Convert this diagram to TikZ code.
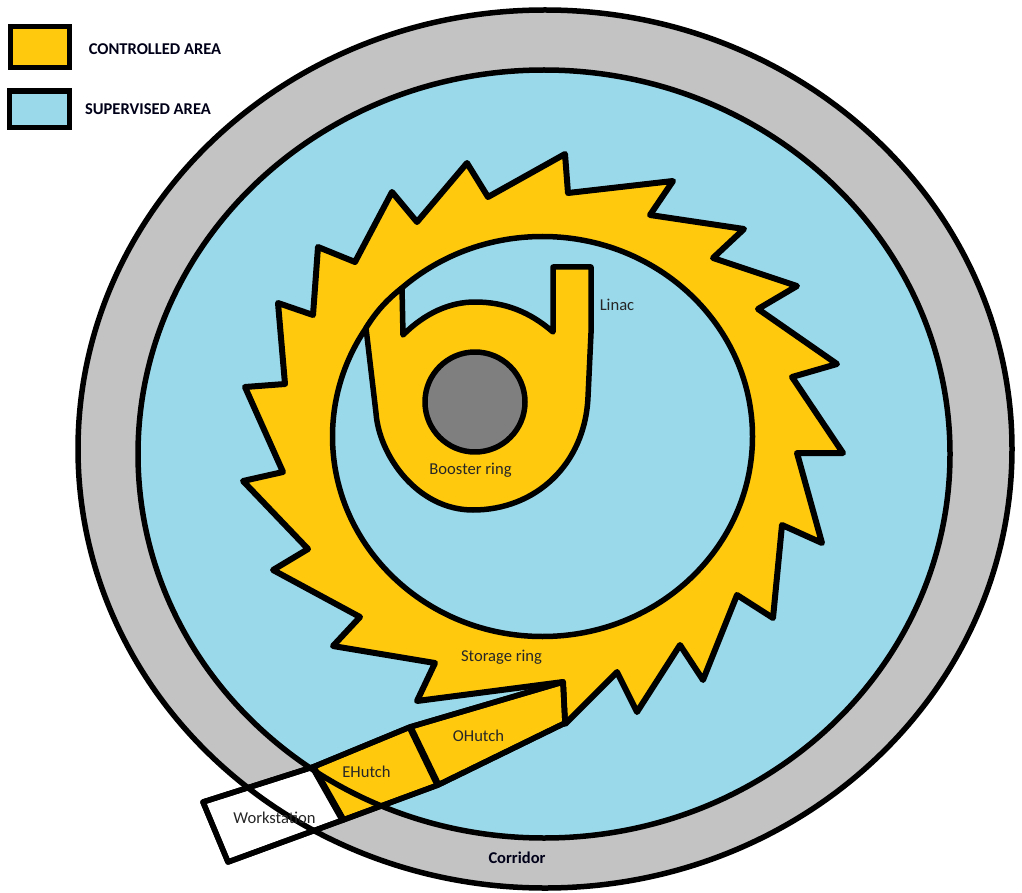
\documentclass[tikz,border=0pt]{standalone}
\usepackage{fontspec}
\setmainfont{Carlito}
\definecolor{ctrl}{HTML}{FFC90E}
\definecolor{superv}{HTML}{99D9EA}
\definecolor{corr}{HTML}{C3C3C3}
\definecolor{core}{HTML}{7F7F7F}
\tikzset{
  outl/.style={draw=black,line width=5.5pt,line join=round},
  tooth outl/.style={draw=black,line width=6pt,line join=round},
  thick outl/.style={draw=black,line width=7pt,line join=round},
  lbl/.style={font=\fontsize{16.6}{18}\selectfont,inner sep=0pt,text=black!85},
  lblb/.style={font=\fontsize{16.5}{18}\selectfont\bfseries,inner sep=0pt,text=black!90!blue},
}
\begin{document}
\begin{tikzpicture}[x=1pt,y=-1pt]
\useasboundingbox (0,0) rectangle (1022,893);
\fill[white] (0,0) rectangle (1022,893);
% areas
\fill[corr] (545,449) ellipse [x radius=467,y radius=439];
\fill[superv] (544,454) ellipse [x radius=406,y radius=384];
% storage ring
\path[tooth outl,fill=ctrl] (245,387)--(285,384)--(278,303)--(313,315)--(318,247)--(355,262)--(392,192)--(417,222)--(467,163)--(488,197)--(565,154)--(568,193)--(673,181)--(650,215)--(744,229)--(713,258)--(797,286)--(758,309)--(837,364)--(792,377)--(843,453)--(797,453)--(822,543)--(782,525)--(773,618)--(737,595)--(703,680)--(680,645)--(637,712)--(617,672)--(565,724)--(563,682)--(417,701)--(435,663)--(333,646)--(360,617)--(273,570)--(308,549)--(243,481)--(283,472)--cycle;
\path[outl,fill=superv] (542.5,436.5) ellipse [x radius=210,y radius=200];
% booster
\path[outl,fill=ctrl] (366,328) .. controls (377,310) and (389,298) .. (402,288)--(403,335) .. controls (425,313) and (450,302) .. (475,302) .. controls (505,302) and (530,312) .. (553,332)--(553,267)--(591,267)--(591,333)--(588,397) .. controls (585,465) and (535,510) .. (473,510) .. controls (417,510) and (379,455) .. (376,413)--cycle;
\path[outl,fill=core] (475,402) circle [radius=50];
% beamline
\path[outl,fill=ctrl] (313,767)--(410,727)--(563,682)--(565,723)--(438,785)--(343,820)--cycle;
\path[outl,fill=white] (313,767)--(203,802)--(228,862)--(343,820)--cycle;
\path[thick outl] (410,727)--(438,785);
% circle outlines
\path[outl] (545,449) ellipse [x radius=467,y radius=439];
\path[outl] (544,454) ellipse [x radius=406,y radius=384];
% hutch outline back over the circle
\path[outl] (313,767)--(410,727)--(563,682)--(565,723)--(438,785)--(343,820)--(228,862)--(203,802)--cycle;
\path[thick outl] (313,767)--(343,820);
% legend
\path[line width=5.5pt,draw=black,fill=ctrl] (10.5,26.5) rectangle (69.5,67.5);
\path[line width=5.5pt,draw=black,fill=superv] (9.5,91) rectangle (69.5,127.5);
% labels
\node[lblb] (ctrllabel) at (155,49) {CONTROLLED AREA};
\node[lblb] (suplabel) at (148,109) {SUPERVISED AREA};
\node[lbl] (linac) at (617,305) {Linac};
\node[lbl] (booster) at (470.5,470) {Booster ring};
\node[lbl] (storage) at (501.5,657) {Storage ring};
\node[lbl] (ohutch) at (478.5,736) {OHutch};
\node[lbl] (ehutch) at (366.5,772) {EHutch};
\node[lbl] (workstation) at (274.5,818) {Workstation};
\node[lblb] (corridor) at (517,858) {Corridor};
\end{tikzpicture}
\end{document}
